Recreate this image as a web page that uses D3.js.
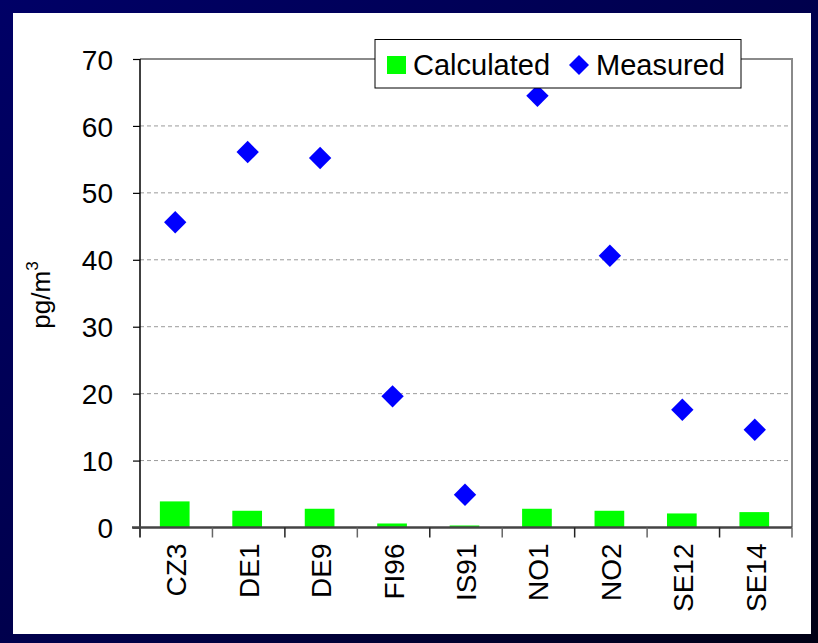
<!DOCTYPE html>
<html>
<head>
<meta charset="utf-8">
<script src="https://cdn.jsdelivr.net/npm/d3@7/dist/d3.min.js"></script>
<style>
  html, body { margin: 0; padding: 0; background: #000040; }
  svg { display: block; }
  text { font-family: Arial, "Liberation Sans", sans-serif; fill: #000; }
</style>
</head>
<body>
<svg id="chart" width="818" height="643"></svg>
<script>
// Stations and concentrations (pg/m3)
const stations = ["CZ3", "DE1", "DE9", "FI96", "IS91", "NO1", "NO2", "SE12", "SE14"];
const calculated = [3.9, 2.5, 2.8, 0.6, 0.3, 2.8, 2.5, 2.1, 2.3];
const measured = [45.6, 56.1, 55.2, 19.6, 4.9, 64.5, 40.6, 17.6, 14.6];
const yTicks = [0, 10, 20, 30, 40, 50, 60, 70];

const svg = d3.select("#chart");
const W = 818, H = 643;

// Dark frame with a gentle gradient
const defs = svg.append("defs");
const grad = defs.append("linearGradient").attr("id", "frame")
  .attr("x1", "0%").attr("y1", "0%").attr("x2", "100%").attr("y2", "100%");
grad.append("stop").attr("offset", "0%").attr("stop-color", "#000066");
grad.append("stop").attr("offset", "55%").attr("stop-color", "#00004a");
grad.append("stop").attr("offset", "100%").attr("stop-color", "#000014");
svg.append("rect").attr("width", W).attr("height", H).attr("fill", "url(#frame)");
svg.append("rect").attr("x", 13).attr("y", 13).attr("width", 798).attr("height", 621).attr("fill", "#fff");

const plot = { left: 140, right: 792, top: 59, bottom: 527.5 };

const x = d3.scaleBand().domain(stations).range([plot.left, plot.right]).paddingInner(0).paddingOuter(0);
const y = d3.scaleLinear().domain([0, 70]).range([plot.bottom, plot.top]);

// Dashed gridlines
svg.append("g").selectAll("line").data(yTicks.filter(d => d > 0 && d < 70)).join("line")
  .attr("x1", plot.left).attr("x2", plot.right)
  .attr("y1", d => y(d)).attr("y2", d => y(d))
  .attr("stroke", "#9a9a9a").attr("stroke-width", 1).attr("stroke-dasharray", "4,3");

// Plot border (top and right)
svg.append("path")
  .attr("d", `M${plot.left},${y(70)}H${plot.right}V${plot.bottom}`)
  .attr("fill", "none").attr("stroke", "#8a8a8a").attr("stroke-width", 2);

// Bars
const barW = x.bandwidth() * 0.41;
svg.append("g").selectAll("rect").data(stations).join("rect")
  .attr("x", (d, i) => x(d) + x.bandwidth() / 2 - barW / 2 - 1.5)
  .attr("y", (d, i) => y(calculated[i]))
  .attr("width", barW)
  .attr("height", (d, i) => y(0) - y(calculated[i]))
  .attr("fill", "#00ff00");

// Y axis
const yAxis = svg.append("g").attr("transform", `translate(${plot.left},0)`)
  .call(d3.axisLeft(y).tickValues(yTicks).tickSize(7).tickPadding(20).tickFormat(d3.format("d")));
yAxis.select(".domain").attr("stroke", "#000").attr("stroke-width", 1.5).attr("d", `M0,${plot.top}V${plot.bottom + 10}`);
yAxis.selectAll(".tick line").attr("stroke", "#000").attr("stroke-width", 1.2);
yAxis.selectAll(".tick text").attr("font-size", 28).attr("font-family", "Arial, 'Liberation Sans', sans-serif").attr("fill", "#000").attr("dy", "0.36em");

// X axis
const xAxis = svg.append("g").attr("transform", `translate(0,${plot.bottom})`)
  .call(d3.axisBottom(x).tickSize(0).tickFormat(""));
xAxis.select(".domain").attr("stroke", "#444").attr("stroke-width", 2.5).attr("d", `M${plot.left - 8},0H${plot.right}`);
xAxis.selectAll(".tick").remove();
// Category separators
const bounds = stations.map(d => x(d)).concat([plot.right]);
xAxis.append("g").selectAll("line").data(bounds.slice(1)).join("line")
  .attr("x1", d => d).attr("x2", d => d).attr("y1", 0).attr("y2", 10)
  .attr("stroke", (d, i) => i % 2 ? "#222" : "#666").attr("stroke-width", 1.5);

// Category labels, rotated
svg.append("g").selectAll("text").data(stations).join("text")
  .attr("transform", d => `translate(${x(d) + x.bandwidth() / 2 + 10},${plot.bottom + 16}) rotate(-90)`)
  .attr("text-anchor", "end")
  .attr("font-size", 28)
  .text(d => d);

// Measured diamonds
const diamond = d3.symbol().type(d3.symbolSquare).size(250);
svg.append("g").selectAll("path").data(stations).join("path")
  .attr("d", diamond)
  .attr("transform", (d, i) => `translate(${x(d) + x.bandwidth() / 2 - 1},${y(measured[i])}) rotate(45)`)
  .attr("fill", "#0000ff");

// Y axis title
const yt = svg.append("text")
  .attr("transform", "translate(50,295) rotate(-90)")
  .attr("text-anchor", "middle")
  .attr("font-size", 26);
yt.append("tspan").text("pg/m");
yt.append("tspan").attr("font-size", 17).attr("dy", "-0.7em").text("3");

// Legend
const lg = svg.append("g");
lg.append("rect").attr("x", 375).attr("y", 39.5).attr("width", 366).attr("height", 48.5)
  .attr("fill", "#fff").attr("stroke", "#000").attr("stroke-width", 1);
lg.append("rect").attr("x", 387).attr("y", 56).attr("width", 19).attr("height", 18).attr("fill", "#00ff00");
lg.append("text").attr("x", 413).attr("y", 74.5).attr("font-size", 29).text("Calculated");
lg.append("path").attr("d", d3.symbol().type(d3.symbolSquare).size(200))
  .attr("transform", "translate(579,65) rotate(45)").attr("fill", "#0000ff");
lg.append("text").attr("x", 596).attr("y", 74.5).attr("font-size", 29).text("Measured");
</script>
</body>
</html>
